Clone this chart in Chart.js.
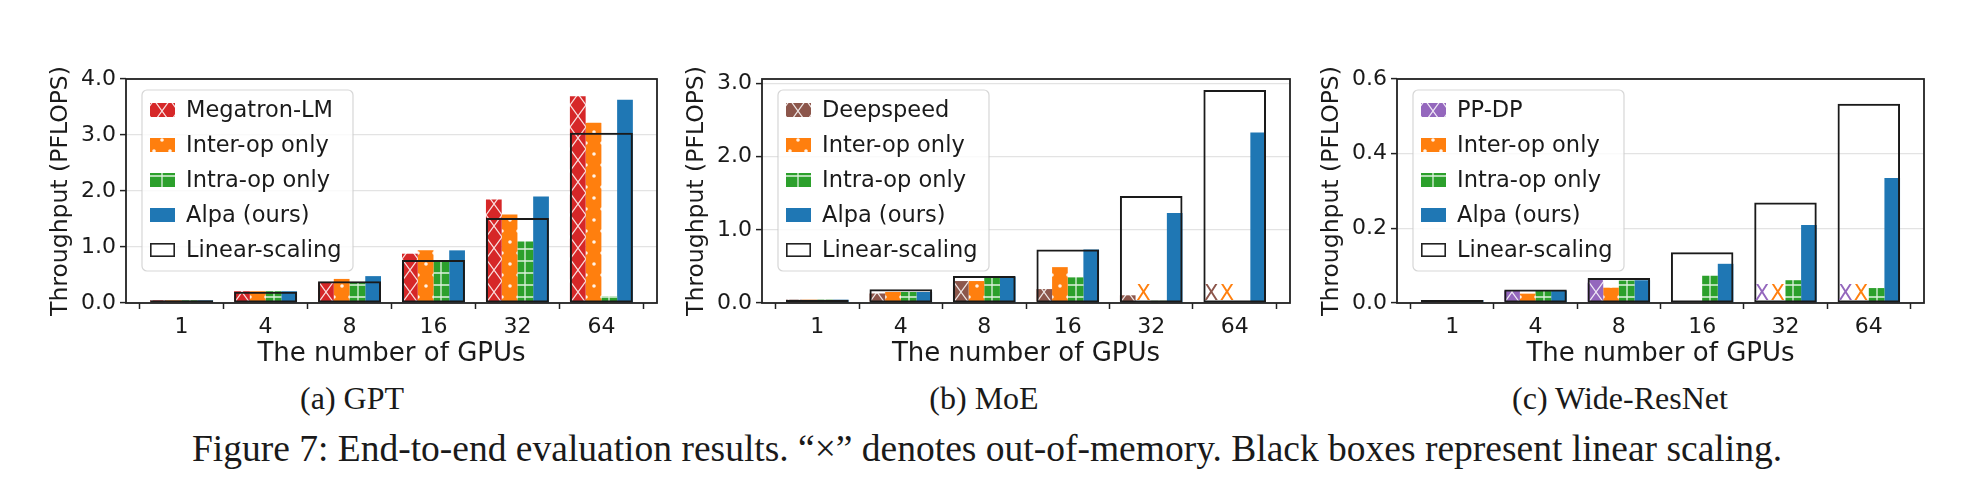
<!DOCTYPE html>
<html><head><meta charset="utf-8">
<script src="https://cdn.jsdelivr.net/npm/chart.js@4/dist/chart.umd.min.js"></script>
<style>
html,body{margin:0;padding:0;background:#fff;}
body{width:1974px;height:496px;position:relative;overflow:hidden;}
canvas{position:absolute;top:0;}
.cap{position:absolute;font-family:"Liberation Serif","Times New Roman",serif;color:#1a1a1a;line-height:1;white-space:nowrap;transform:translateX(-50%);}
</style></head><body>
<canvas id="c1"></canvas><canvas id="c2"></canvas><canvas id="c3"></canvas>
<div class="cap" id="capA" style="left:352px;top:382px;font-size:32px">(a) GPT</div>
<div class="cap" id="capB" style="left:984px;top:382px;font-size:32px">(b) MoE</div>
<div class="cap" id="capC" style="left:1620px;top:382px;font-size:32px">(c) Wide-ResNet</div>
<div class="cap" id="capFig" style="left:987px;top:430px;font-size:31px">Figure 7: End-to-end evaluation results. “×” denotes out-of-memory. Black boxes represent linear scaling.</div>
<script>
// ---------- data ----------
const gpuLabels = ['1', '4', '8', '16', '32', '64'];
const xTitle = 'The number of GPUs';
const yTitle = 'Throughput (PFLOPS)';
const linearLabel = 'Linear-scaling';

// (a) GPT
const gptNames = ['Megatron-LM', 'Inter-op only', 'Intra-op only', 'Alpa (ours)'];
const gptMegatron = [0.047, 0.21, 0.37, 0.88, 1.85, 3.69];
const gptInter    = [0.047, 0.21, 0.43, 0.94, 1.58, 3.22];
const gptIntra    = [0.047, 0.21, 0.37, 0.76, 1.10, 0.12];
const gptAlpa     = [0.047, 0.21, 0.48, 0.94, 1.90, 3.63];
const gptLinear   = [0.047, 0.20, 0.39, 0.77, 1.52, 3.04];
const gptYTicks   = ['0.0', '1.0', '2.0', '3.0', '4.0'];

// (b) MoE
const moeNames = ['Deepspeed', 'Inter-op only', 'Intra-op only', 'Alpa (ours)'];
const moeDeepspeed = [0.045, 0.13, 0.30, 0.19, 0.105, null];
const moeInter     = [0.045, 0.15, 0.30, 0.49, null, null];
const moeIntra     = [0.045, 0.15, 0.36, 0.35, 0.03, null];
const moeAlpa      = [0.045, 0.15, 0.36, 0.73, 1.23, 2.33];
const moeLinear    = [0.045, 0.187, 0.37, 0.73, 1.46, 2.91];
const moeDeepspeedOOM = [false, false, false, false, false, true];
const moeInterOOM     = [false, false, false, false, true, true];
const moeYTicks = ['0.0', '1.0', '2.0', '3.0'];

// (c) Wide-ResNet
const wrnNames = ['PP-DP', 'Inter-op only', 'Intra-op only', 'Alpa (ours)'];
const wrnPPDP   = [0.008, 0.033, 0.062, 0.002, null, null];
const wrnInter  = [0.008, 0.025, 0.041, 0.002, null, null];
const wrnIntra  = [0.008, 0.033, 0.060, 0.073, 0.061, 0.040];
const wrnAlpa   = [0.008, 0.033, 0.061, 0.105, 0.209, 0.335];
const wrnLinear = [0.0083, 0.036, 0.067, 0.136, 0.269, 0.534];
const wrnPPDPOOM  = [false, false, false, false, true, true];
const wrnInterOOM = [false, false, false, false, true, true];
const wrnYTicks = ['0.0', '0.2', '0.4', '0.6'];

// ---------- styling ----------
const RED = '#d62728', ORANGE = '#ff7f0e', GREEN = '#2ca02c', BLUE = '#1f77b4', PURPLE = '#9467bd', BROWN = '#8c564b';
const TXT = '#1a1a1a';
const CAT_FRAC = 0.75;
const tileCache = {};
function getTile(kind, color) {
  const key = kind + color;
  if (tileCache[key]) return tileCache[key];
  const w = 16, h = kind === '+' ? 12 : 22;
  const c = document.createElement('canvas'); c.width = w; c.height = h;
  const g = c.getContext('2d');
  g.fillStyle = color; g.fillRect(0, 0, w, h);
  g.strokeStyle = 'rgba(255,255,255,0.85)'; g.fillStyle = 'rgba(255,255,255,0.9)'; g.lineWidth = 1.3;
  if (kind === 'x') {
    g.beginPath(); g.moveTo(0, 0); g.lineTo(w, h); g.moveTo(w, 0); g.lineTo(0, h); g.stroke();
  } else if (kind === '.') {
    g.beginPath(); g.arc(w / 2, 5, 1.8, 0, Math.PI * 2); g.fill();
    g.beginPath(); g.arc(0, 16, 1.8, 0, Math.PI * 2); g.arc(w, 16, 1.8, 0, Math.PI * 2); g.fill();
  } else if (kind === '+') {
    g.beginPath(); g.moveTo(w / 2, 0); g.lineTo(w / 2, h); g.moveTo(0, h / 2); g.lineTo(w, h / 2); g.stroke();
  }
  tileCache[key] = c;
  return c;
}
function barFill(ctx, kind, color, k) {
  if (kind === 'solid') return color;
  const chart = ctx.chart;
  const pat = chart.ctx.createPattern(getTile(kind, color), 'repeat');
  const xs = chart.scales && chart.scales.x;
  if (xs && chart.chartArea && ctx.dataIndex !== undefined) {
    const sp = xs.getPixelForValue(1) - xs.getPixelForValue(0);
    const bw = sp * CAT_FRAC / 4;
    const left = xs.getPixelForValue(ctx.dataIndex) - sp * CAT_FRAC / 2 + k * bw;
    pat.setTransform(new DOMMatrix([1, 0, 0, 1, Math.round(left), Math.round(chart.chartArea.bottom)]));
  }
  return pat;
}

// ---------- plugins ----------
const framePlugin = {
  id: 'frame',
  afterDatasetsDraw(chart) {
    const a = chart.chartArea, g = chart.ctx;
    g.save(); g.strokeStyle = '#222'; g.lineWidth = 1.8;
    g.strokeRect(a.left, a.top, a.right - a.left, a.bottom - a.top);
    g.restore();
  }
};
const oomPlugin = {
  id: 'oom',
  afterDatasetsDraw(chart) {
    const g = chart.ctx, a = chart.chartArea, xs = chart.scales.x;
    const sp = xs.getPixelForValue(1) - xs.getPixelForValue(0);
    const bw = sp * CAT_FRAC / 4;
    chart.data.datasets.forEach((ds) => {
      if (!ds.oom) return;
      ds.oom.forEach((f, i) => {
        if (!f) return;
        const x = xs.getPixelForValue(i) - sp * CAT_FRAC / 2 + (ds.slot + 0.5) * bw;
        g.save(); g.fillStyle = ds.markColor; g.font = '21px "DejaVu Sans"';
        g.textAlign = 'center'; g.textBaseline = 'alphabetic';
        g.fillText('X', x, a.bottom - 3);
        g.restore();
      });
    });
  }
};
const legendPlugin = {
  id: 'boxlegend',
  afterDraw(chart) {
    const g = chart.ctx, a = chart.chartArea;
    const items = chart.data.datasets.slice().sort((p, q) => p.legendOrder - q.legendOrder);
    const x0 = a.left + 16, y0 = a.top + 11, w = 211, rowH = 35, h = 12 + rowH * items.length - 6;
    g.save();
    g.beginPath();
    if (g.roundRect) g.roundRect(x0, y0, w, h, 5); else g.rect(x0, y0, w, h);
    g.fillStyle = 'rgba(255,255,255,0.8)'; g.fill();
    g.strokeStyle = 'rgba(204,204,204,0.8)'; g.lineWidth = 1.2; g.stroke();
    items.forEach((ds, r) => {
      const cy = y0 + 20 + r * rowH;
      const px = x0 + 8, py = cy - 7, pw = 25, ph = 14;
      if (ds.kind === 'box') {
        g.fillStyle = '#fff'; g.fillRect(px, py, pw, ph);
        g.strokeStyle = '#222'; g.lineWidth = 1.6; g.strokeRect(px + 0.8, py + 0.8, pw - 1.6, ph - 1.6);
      } else if (ds.kind === 'solid') {
        g.fillStyle = ds.baseColor; g.fillRect(px, py, pw, ph);
      } else {
        const pat = g.createPattern(getTile(ds.kind, ds.baseColor), 'repeat');
        pat.setTransform(new DOMMatrix([1, 0, 0, 1, px + 4, py - 3]));
        g.fillStyle = pat; g.fillRect(px, py, pw, ph);
      }
      g.fillStyle = TXT; g.font = '22.5px "DejaVu Sans"'; g.textAlign = 'left'; g.textBaseline = 'middle';
      g.fillText(ds.label, x0 + 44, cy + 1);
    });
    g.restore();
  }
};

// ---------- panel builder ----------
const CANVAS_H = 370, AREA_TOP = 79, AREA_BOTTOM = 303;
function makePanel(id, left, axisLeft, axisRight, names, series, kinds, colors, ooms, linear, yTicks, yMax) {
  const cv = document.getElementById(id);
  const width = axisRight + 6 - left;
  cv.width = width; cv.height = CANVAS_H; cv.style.left = left + 'px';
  const datasets = [{
    label: linearLabel, kind: 'box', legendOrder: 4,
    data: linear.map((y, i) => ({ x: i, y: y })),
    grouped: false, order: -1,
    backgroundColor: 'rgba(0,0,0,0)', borderColor: '#1a1a1a', borderWidth: 2, borderSkipped: false,
    categoryPercentage: CAT_FRAC, barPercentage: 1
  }];
  series.forEach((vals, k) => {
    datasets.push({
      label: names[k], kind: kinds[k], baseColor: colors[k], legendOrder: k, slot: k,
      oom: ooms[k], markColor: colors[k],
      data: vals.map((y, i) => ({ x: i, y: y })),
      order: 0,
      backgroundColor: (c) => barFill(c, kinds[k], colors[k], k),
      borderWidth: 0,
      categoryPercentage: CAT_FRAC, barPercentage: 1
    });
  });
  return new Chart(cv, {
    type: 'bar',
    data: { datasets },
    options: {
      responsive: false, animation: false, devicePixelRatio: 1,
      layout: { padding: { top: AREA_TOP, right: 6, left: 0, bottom: 0 } },
      plugins: { legend: { display: false }, tooltip: { enabled: false } },
      scales: {
        x: {
          type: 'linear', min: -0.6625, max: 5.6625, offset: false,
          afterBuildTicks: (s) => { s.ticks = gpuLabels.map((_, i) => ({ value: i })); },
          afterFit: (s) => { s.height = CANVAS_H - AREA_BOTTOM; },
          ticks: { callback: (v) => gpuLabels[v], color: TXT, font: { family: 'DejaVu Sans', size: 22 }, padding: 5, maxRotation: 0, autoSkip: false },
          grid: { drawOnChartArea: false, drawTicks: true, tickLength: 6, tickColor: '#222', tickWidth: 1.5 },
          border: { display: false },
          title: { display: true, text: xTitle, color: TXT, font: { family: 'DejaVu Sans', size: 26 }, padding: { top: 0, bottom: 0 } }
        },
        y: {
          type: 'linear', min: 0, max: yMax,
          afterBuildTicks: (s) => { s.ticks = yTicks.map((t) => ({ value: parseFloat(t) })); },
          afterFit: (s) => { s.width = axisLeft - left; },
          ticks: { callback: (v, i) => yTicks[i], color: TXT, font: { family: 'DejaVu Sans', size: 22 }, padding: 4 },
          grid: { color: '#e3e3e3', lineWidth: 1.2, drawTicks: true, tickLength: 6, tickColor: '#222', tickWidth: 1.5 },
          border: { display: false },
          title: { display: true, text: yTitle, color: TXT, font: { family: 'DejaVu Sans', size: 23.5 }, padding: { top: 2, bottom: 0 } }
        }
      }
    },
    plugins: [framePlugin, oomPlugin, legendPlugin]
  });
}

const noOOM = null;
makePanel('c1', 45, 126, 657, gptNames,
  [gptMegatron, gptInter, gptIntra, gptAlpa], ['x', '.', '+', 'solid'], [RED, ORANGE, GREEN, BLUE],
  [noOOM, noOOM, noOOM, noOOM], gptLinear, gptYTicks, 4.0);
makePanel('c2', 681, 762, 1290, moeNames,
  [moeDeepspeed, moeInter, moeIntra, moeAlpa], ['x', '.', '+', 'solid'], [BROWN, ORANGE, GREEN, BLUE],
  [moeDeepspeedOOM, moeInterOOM, noOOM, noOOM], moeLinear, moeYTicks, 3.06);
makePanel('c3', 1316, 1397, 1924, wrnNames,
  [wrnPPDP, wrnInter, wrnIntra, wrnAlpa], ['x', '.', '+', 'solid'], [PURPLE, ORANGE, GREEN, BLUE],
  [wrnPPDPOOM, wrnInterOOM, noOOM, noOOM], wrnLinear, wrnYTicks, 0.6);

// fit the figure caption to its measured width in the reference
(function () {
  const el = document.getElementById('capFig');
  const target = 1590;
  const w = el.getBoundingClientRect().width;
  if (w > 0) el.style.fontSize = (31 * target / w).toFixed(2) + 'px';
})();
</script>
</body></html>
